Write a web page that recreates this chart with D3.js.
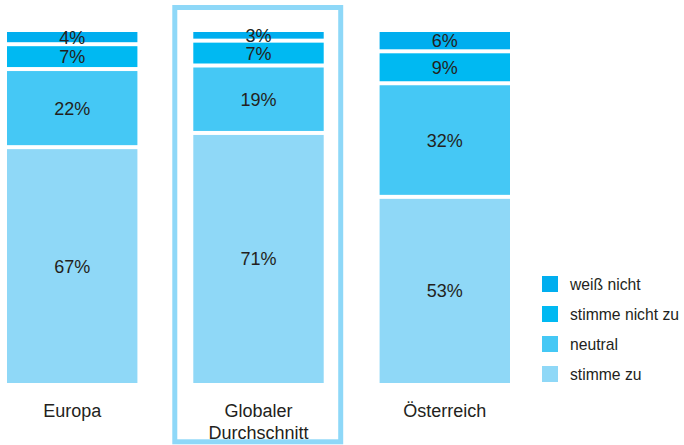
<!DOCTYPE html>
<html>
<head>
    <script src="https://cdn.jsdelivr.net/npm/d3@7"></script>
    <style>
        body { margin: 0; background: #fff; }
        text { font-family: 'Liberation Sans', Arial, sans-serif; fill: #231f20; }
    </style>
</head>
<body>
<div id="visDiv"></div>
<script>
    /* Data */
    var categories = ["Europa", "Globaler Durchschnitt", "Österreich"];
    var seriesNames = ["stimme zu", "neutral", "stimme nicht zu", "weiß nicht"];
    var stimmeZu = [67, 71, 53];
    var neutral = [22, 19, 32];
    var stimmeNichtZu = [7, 7, 9];
    var weissNicht = [4, 3, 6];
    var colors = ["#8fd8f7", "#45c8f5", "#00b9f2", "#00aeef"];

    var rows = categories.map(function (c, i) {
        return { cat: c, "stimme zu": stimmeZu[i], "neutral": neutral[i],
                 "stimme nicht zu": stimmeNichtZu[i], "weiß nicht": weissNicht[i] };
    });
    var stacked = d3.stack().keys(seriesNames)(rows);

    /* Layout */
    var width = 684, height = 445;
    var svg = d3.select("#visDiv").append("svg")
        .attr("width", width).attr("height", height);

    var x = d3.scaleBand().domain(categories).range([7, 510])
        .paddingInner(0.3).paddingOuter(0).align(0);
    var y = d3.scaleLinear().domain([0, 100]).range([385, 30]);

    // highlight frame around the global average
    var gx = x("Globaler Durchschnitt");
    svg.append("rect")
        .attr("x", gx - 18.5).attr("y", 7.5)
        .attr("width", x.bandwidth() + 35.5).attr("height", 434.3)
        .attr("fill", "none").attr("stroke", "#8ed8f8").attr("stroke-width", 5);

    /* Bars */
    var layers = svg.selectAll(".layer").data(stacked).enter().append("g")
        .attr("fill", function (d, i) { return colors[i]; });

    layers.selectAll("rect").data(function (d) { return d; }).enter().append("rect")
        .attr("x", function (d) { return x(d.data.cat); })
        .attr("y", function (d) { return y(d[1]) + 2; })
        .attr("width", x.bandwidth())
        .attr("height", function (d) { return y(d[0]) - y(d[1]) - 4; });

    layers.selectAll("text").data(function (d) { return d; }).enter().append("text")
        .attr("x", function (d) { return x(d.data.cat) + x.bandwidth() / 2; })
        .attr("y", function (d) { return (y(d[0]) + y(d[1])) / 2; })
        .attr("dy", "0.36em")
        .attr("text-anchor", "middle")
        .style("font-size", "18px")
        .text(function (d) { return (d[1] - d[0]) + "%"; });

    /* Category labels */
    categories.forEach(function (c) {
        var t = svg.append("text")
            .attr("x", x(c) + x.bandwidth() / 2)
            .attr("y", 416.5)
            .attr("text-anchor", "middle")
            .style("font-size", "18px");
        c.split(" ").forEach(function (w, i) {
            t.append("tspan").attr("x", x(c) + x.bandwidth() / 2)
                .attr("dy", i ? 22 : 0).text(w);
        });
    });

    /* Legend */
    var legendNames = seriesNames.slice().reverse();
    var legendColors = colors.slice().reverse();
    var legend = svg.selectAll(".legend").data(legendNames).enter().append("g")
        .attr("transform", function (d, i) { return "translate(542," + (276 + i * 30) + ")"; });
    legend.append("rect").attr("width", 16).attr("height", 16)
        .attr("fill", function (d, i) { return legendColors[i]; });
    legend.append("text").attr("x", 28).attr("y", 8).attr("dy", "0.35em")
        .style("font-size", "15.7px")
        .text(function (d) { return d; });
</script>
</body>
</html>
